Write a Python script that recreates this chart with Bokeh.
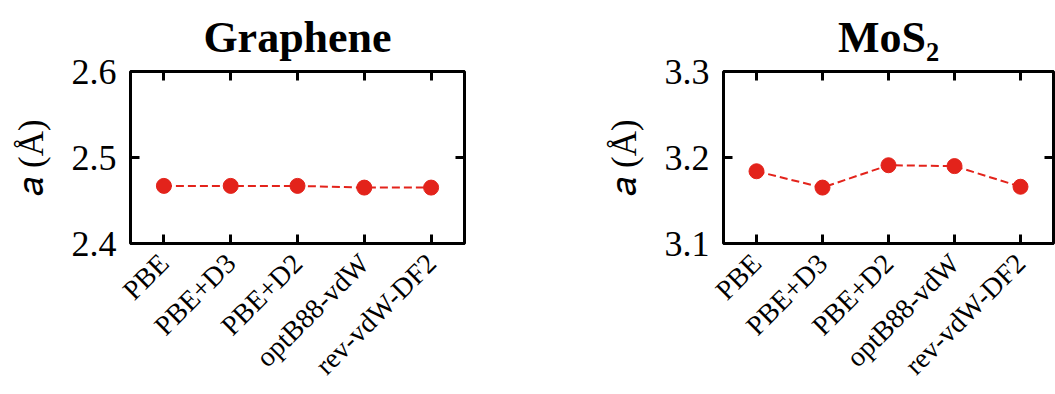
import math
from bokeh.plotting import figure
from bokeh.models import Range1d, FixedTicker, LinearAxis
from bokeh.layouts import row
from bokeh.embed import file_html
from bokeh.resources import INLINE

methods = ["PBE", "PBE+D3", "PBE+D2", "optB88-vdW", "rev-vdW-DF2"]
graphene_a = [2.467, 2.467, 2.467, 2.465, 2.465]
mos2_a = [3.184, 3.165, 3.191, 3.190, 3.166]
graphene_ticks = [2.4, 2.5, 2.6]
mos2_ticks = [3.1, 3.2, 3.3]
y_label = "𝑎 (Å)"

RED = "#e3231b"
SERIF = "Liberation Serif"
H = 394


def make_panel(title, values, ticks, width, left, right):
    xs = [i + 0.5 for i in range(len(methods))]
    p = figure(width=width, height=H, x_range=Range1d(0, len(methods)),
               y_range=Range1d(ticks[0], ticks[-1]), output_backend="svg",
               toolbar_location=None, title=title,
               min_border_left=left, min_border_right=right, min_border_top=67,
               min_border_bottom=H - 248)
    p.title.text_font = SERIF
    p.title.text_font_style = "bold"
    p.title.text_font_size = "44px"
    p.title.align = "center"
    p.title.text_color = "black"
    p.title.standoff = 20
    p.grid.visible = False
    p.outline_line_color = "black"
    p.outline_line_width = 3
    p.background_fill_color = "white"
    p.border_fill_color = "white"

    p.line(xs, values, line_color=RED, line_width=2, line_dash="8 4")
    p.scatter(xs, values, size=15, fill_color=RED, line_color=RED)

    xa = p.xaxis[0]
    xa.ticker = FixedTicker(ticks=xs)
    xa.major_label_overrides = dict(zip(xs, methods))
    xa.axis_line_color = None
    xa.major_tick_in = 9
    xa.major_tick_out = 0
    xa.major_tick_line_width = 3
    xa.minor_tick_line_color = None
    xa.major_label_orientation = math.pi / 4
    xa.major_label_text_font = SERIF
    xa.major_label_text_font_size = "28px"
    xa.major_label_text_color = "black"
    xa.major_label_standoff = 15

    ya = p.yaxis[0]
    ya.ticker = FixedTicker(ticks=ticks)
    ya.axis_line_color = None
    ya.major_tick_in = 9
    ya.major_tick_out = 0
    ya.major_tick_line_width = 3
    ya.minor_tick_line_color = None
    ya.major_label_text_font = SERIF
    ya.major_label_text_font_size = "36px"
    ya.major_label_text_color = "black"
    ya.major_label_standoff = 14
    ya.axis_label = y_label
    ya.axis_label_text_font = SERIF
    ya.axis_label_text_font_style = "normal"
    ya.axis_label_text_font_size = "35px"
    ya.axis_label_text_color = "black"
    ya.axis_label_standoff = 18

    top = LinearAxis(ticker=FixedTicker(ticks=xs),
                     axis_line_color=None, major_tick_in=9, major_tick_out=0,
                     major_tick_line_width=3, minor_tick_line_color=None,
                     major_label_standoff=0,
                     major_label_overrides={c: "" for c in xs})
    p.add_layout(top, "above")
    rt = LinearAxis(ticker=FixedTicker(ticks=ticks), axis_line_color=None, major_tick_in=9,
                    major_tick_out=0, major_tick_line_width=3, minor_tick_line_color=None,
                    major_label_standoff=0,
                    major_label_overrides={t: "" for t in ticks})
    p.add_layout(rt, "right")
    return p


p1 = make_panel("Graphene", graphene_a, graphene_ticks, 580, 130, 116)
p2 = make_panel("MoS₂", mos2_a, mos2_ticks, 475, 143, 2)

layout = row(p1, p2)
open("out.html", "w").write(file_html(layout, INLINE))
